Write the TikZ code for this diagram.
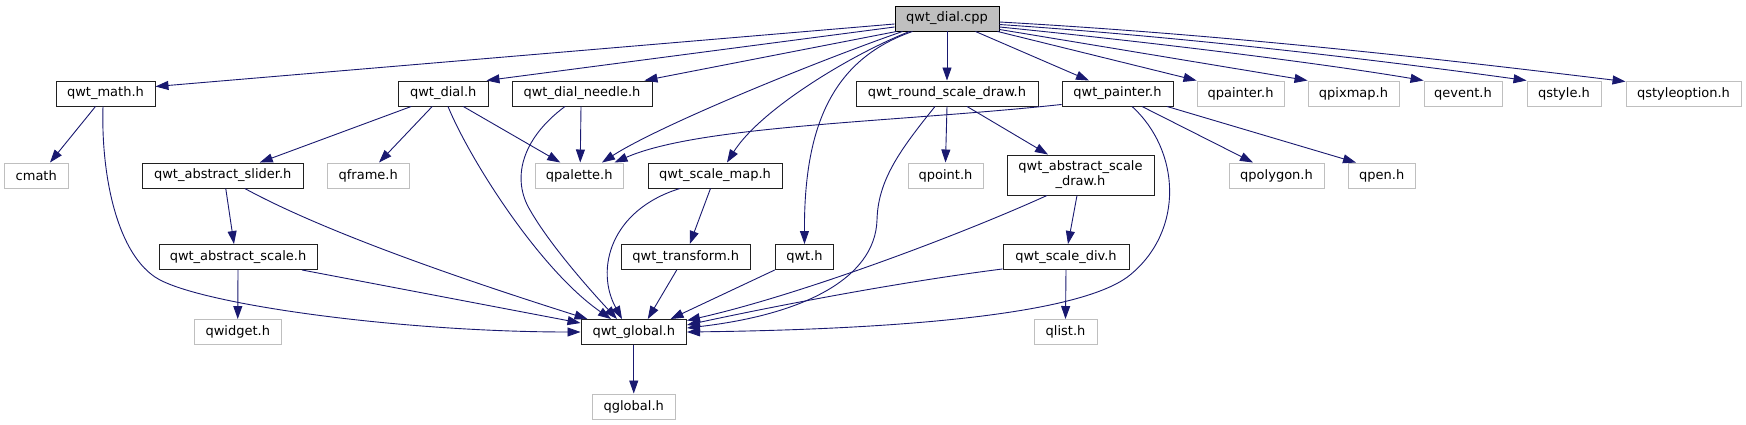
\documentclass[tikz,border=0pt]{standalone}
\usepackage{fontspec}
\setmainfont{DejaVu Sans}
\usetikzlibrary{arrows.meta}
\definecolor{edgeblue}{HTML}{191970}
\definecolor{extgray}{HTML}{BFBFBF}
\definecolor{docborder}{HTML}{202020}
\begin{document}
\begin{tikzpicture}[x=1pt,y=-1pt,
  box/.style={rectangle, inner sep=0pt, minimum height=25pt, font=\fontsize{13}{15}\selectfont, line width=0.95pt, fill=white, align=center},
  doc/.style={box, draw=docborder},
  ext/.style={box, draw=extgray},
  rootbox/.style={box, draw=black, fill=extgray},
  edge/.style={draw=edgeblue, line width=0.9pt, -{Triangle[length=13pt,width=9pt]}}]
\path[fill=white] (0,0) rectangle (1746,425);
\useasboundingbox (0,0) rectangle (1746,425);

% row 1
\node[rootbox, minimum width=104pt] (root) at (947,18.5) {qwt\_dial.cpp};
% row 2
\node[doc, minimum width=99pt] (math) at (105.5,93.5) {qwt\_math.h};
\node[doc, minimum width=89.5pt] (dial) at (443.25,93.5) {qwt\_dial.h};
\node[doc, minimum width=140pt] (needle) at (582,93.5) {qwt\_dial\_needle.h};
\node[doc, minimum width=182pt] (rsd) at (947,93.5) {qwt\_round\_scale\_draw.h};
\node[doc, minimum width=111pt] (painter) at (1117.5,93.5) {qwt\_painter.h};
\node[ext, minimum width=87pt] (qpainter) at (1240.5,93.5) {qpainter.h};
\node[ext, minimum width=91pt] (qpixmap) at (1353.5,93.5) {qpixmap.h};
\node[ext, minimum width=78pt] (qevent) at (1463,93.5) {qevent.h};
\node[ext, minimum width=74pt] (qstyle) at (1564,93.5) {qstyle.h};
\node[ext, minimum width=115pt] (qstyleoption) at (1683.5,93.5) {qstyleoption.h};
% row 3
\node[ext, minimum width=63.5pt] (cmath) at (36.25,175.5) {cmath};
\node[doc, minimum width=160.5pt] (slider) at (222.75,175.5) {qwt\_abstract\_slider.h};
\node[ext, minimum width=81.5pt] (qframe) at (368.25,175.5) {qframe.h};
\node[ext, minimum width=88.5pt] (qpalette) at (579.25,175.5) {qpalette.h};
\node[doc, minimum width=134pt] (scalemap) at (715,175.5) {qwt\_scale\_map.h};
\node[ext, minimum width=75pt] (qpoint) at (945.5,175.5) {qpoint.h};
\node[doc, minimum width=147pt, minimum height=40pt] (asd) at (1080.5,175) {qwt\_abstract\_scale\\\_draw.h};
\node[ext, minimum width=95pt] (qpolygon) at (1276.5,175.5) {qpolygon.h};
\node[ext, minimum width=67.5pt] (qpen) at (1381.75,175.5) {qpen.h};
% row 4
\node[doc, minimum width=158pt] (ascale) at (238,257) {qwt\_abstract\_scale.h};
\node[doc, minimum width=129.5pt] (transform) at (685.75,257) {qwt\_transform.h};
\node[doc, minimum width=58.5pt] (qwt) at (804.5,257) {qwt.h};
\node[doc, minimum width=126pt] (scalediv) at (1066,257) {qwt\_scale\_div.h};
% row 5
\node[ext, minimum width=86.5pt] (qwidget) at (237.75,332) {qwidget.h};
\node[doc, minimum width=105.5pt] (global) at (633.75,332) {qwt\_global.h};
\node[ext, minimum width=63pt] (qlist) at (1065.5,332) {qlist.h};
% row 6
\node[ext, minimum width=82.5pt] (qglobal) at (633.75,406.5) {qglobal.h};

% edges from root
\draw[edge] ([yshift=-5.5pt]root.west) -- ([yshift=-6pt]math.north east);
\draw[edge] ([yshift=-8.5pt]root.west) -- ([xshift=-2pt]dial.north east);
\draw[edge] ([xshift=2pt]root.south west) -- ([xshift=-8pt]needle.north east);
\draw[edge] ([xshift=8pt]root.south west) .. controls (820,60) and (660,125) .. ([xshift=22.75pt]qpalette.north);
\draw[edge] ([xshift=15pt]root.south west) .. controls (850,55) and (760,110) .. ([xshift=12pt]scalemap.north);
\draw[edge] ([xshift=18pt]root.south west) .. controls (830,60) and (804,130) .. (qwt.north);
\draw[edge] (root.south) -- (rsd.north);
\draw[edge] ([xshift=-24pt]root.south east) -- ([xshift=-28.5pt]painter.north);
\draw[edge] ([xshift=-2pt]root.south east) -- (qpainter.north west);
\draw[edge] ([yshift=2pt]root.south east) -- (qpixmap.north west);
\draw[edge] ([yshift=-8.5pt]root.east) .. controls (1150,42) and (1320,63) .. (qevent.north west);
\draw[edge] ([yshift=-6pt]root.east) .. controls (1200,38) and (1400,63) .. (qstyle.north west);
\draw[edge] ([yshift=-3.5pt]root.east) .. controls (1250,36) and (1480,64) .. ([yshift=-1pt]qstyleoption.north west);

% qwt_math.h
\draw[edge] ([xshift=-10pt]math.south) -- ([xshift=13.75pt]cmath.north);
\draw[edge] ([xshift=-2.5pt]math.south) .. controls (101,170) and (115,250) .. (155,277)
  .. controls (195,304) and (400,332) .. (global.west);

% qwt_dial.h
\draw[edge] ([xshift=-32pt]dial.south) -- ([xshift=37pt]slider.north);
\draw[edge] ([xshift=-11pt]dial.south) -- ([xshift=10.75pt]qframe.north);
\draw[edge] ([xshift=20pt]dial.south) -- ([xshift=-19pt]qpalette.north);
\draw[edge] ([xshift=4.75pt]dial.south) .. controls (470,160) and (540,270) .. ([xshift=-22.75pt]global.north);

% qwt_dial_needle.h
\draw[edge] ([xshift=-1pt]needle.south) -- ([xshift=1pt]qpalette.north);
\draw[edge] ([xshift=-17pt]needle.south) .. controls (520,140) and (512,180) .. (530,210)
  .. controls (550,245) and (590,290) .. ([xshift=-16.75pt]global.north);

% qwt_abstract_slider.h
\draw[edge] ([xshift=3pt]slider.south) -- ([xshift=-4pt]ascale.north);
\draw[edge] ([xshift=22pt]slider.south) .. controls (330,235) and (480,285) .. ([xshift=7pt]global.north west);

% qwt_abstract_scale.h
\draw[edge] (ascale.south) -- (qwidget.north);
\draw[edge] ([xshift=64pt]ascale.south) -- ([yshift=-4pt]global.north west);

% qwt_scale_map.h
\draw[edge] ([xshift=-4.5pt]scalemap.south) -- ([xshift=4pt]transform.north);
\draw[edge] ([xshift=-35pt]scalemap.south) .. controls (610,210) and (595,270) .. ([xshift=-11.75pt]global.north);

% qwt_transform.h, qwt.h
\draw[edge] ([xshift=-9pt]transform.south) -- ([xshift=14pt]global.north);
\draw[edge] (qwt.south west) -- ([xshift=-16.5pt]global.north east);

% qwt_round_scale_draw.h
\draw[edge] (rsd.south) -- (qpoint.north);
\draw[edge] ([xshift=20pt]rsd.south) -- ([xshift=-32.5pt]asd.north);
\draw[edge] ([xshift=-12pt]rsd.south) .. controls (900,150) and (878,180) .. (877,220)
  .. controls (875,280) and (800,315) .. ([yshift=4pt]global.east);

% qwt_abstract_scale_draw.h
\draw[edge] ([xshift=-3.5pt]asd.south) -- ([xshift=2pt]scalediv.north);
\draw[edge] ([xshift=-33.5pt]asd.south) .. controls (960,235) and (800,295) .. ([yshift=-1.5pt]global.north east);

% qwt_scale_div.h
\draw[edge] (scalediv.south) -- (qlist.north);
\draw[edge] ([yshift=1pt]scalediv.south west) .. controls (900,282) and (780,305) .. ([yshift=7pt]global.east);

% qwt_painter.h
\draw[edge] ([yshift=2pt]painter.south west) .. controls (900,122) and (700,125) .. ([xshift=-9.5pt]qpalette.north east);
\draw[edge] ([xshift=14.5pt]painter.south) .. controls (1180,150) and (1185,230) .. (1130,275)
  .. controls (1075,320) and (850,330) .. (global.east);
\draw[edge] ([xshift=24.5pt]painter.south) -- ([xshift=-23.5pt]qpolygon.north);
\draw[edge] ([xshift=49.5pt]painter.south) -- ([xshift=-25.75pt]qpen.north);

% qwt_global.h
\draw[edge] (global.south) -- (qglobal.north);
\end{tikzpicture}
\end{document}
